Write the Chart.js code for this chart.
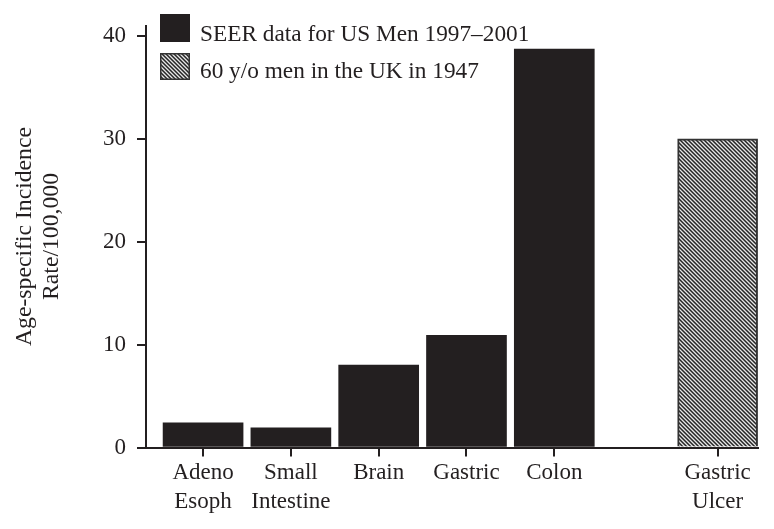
<!DOCTYPE html>
<html>
<head>
<meta charset="utf-8">
<script src="https://cdn.jsdelivr.net/npm/chart.js@4"></script>
<style>
  body { margin: 0; background: #fff; }
  #wrap { width: 774px; height: 529px; }
</style>
</head>
<body>
<div id="wrap"><canvas id="incidenceChart"></canvas></div>
<script>
// Data
const categories = [['Adeno', 'Esoph'], ['Small', 'Intestine'], 'Brain', 'Gastric', 'Colon', ['Gastric', 'Ulcer']];
const slots = [0, 1, 2, 3, 4, 5.86]; // Ulcer sits apart from the SEER group
const seerValues = [2.4, 1.9, 8.0, 10.9, 38.7];
const ukValues = [30.0];
const yTicks = [0, 10, 20, 30, 40];
const legendLabels = ['SEER data for US Men 1997\u20132001', '60 y/o men in the UK in 1947'];

const ink = '#231f20';
const serif = '"Liberation Serif", "Times New Roman", serif';

// diagonal hatch for the UK bar
function makeHatch() {
  const tile = document.createElement('canvas');
  tile.width = 4;
  tile.height = 4;
  const tctx = tile.getContext('2d');
  const shades = ['#262626', '#6e6e6e', '#e6e6e6', '#8c8c8c'];
  for (let x = 0; x < 4; x++) {
    for (let y = 0; y < 4; y++) {
      tctx.fillStyle = shades[(x - y + 8) % 4];
      tctx.fillRect(x, y, 1, 1);
    }
  }
  return tctx.createPattern(tile, 'repeat');
}
const hatch = makeHatch();

// Legend drawn inside the plot, top-left
const boxLegend = {
  id: 'boxLegend',
  afterDraw(chart) {
    const ctx = chart.ctx;
    const x0 = chart.chartArea.left + 14;
    ctx.save();
    ctx.fillStyle = ink;
    ctx.fillRect(x0, 14, 30, 28);
    ctx.fillStyle = hatch;
    ctx.fillRect(x0, 53, 30, 27);
    ctx.strokeStyle = '#333';
    ctx.lineWidth = 1.5;
    ctx.strokeRect(x0 + 0.75, 53.75, 28.5, 25.5);
    ctx.fillStyle = ink;
    ctx.font = '23.3px ' + serif;
    ctx.textBaseline = 'alphabetic';
    ctx.fillText(legendLabels[0], x0 + 40, 41);
    ctx.fillText(legendLabels[1], x0 + 40, 78);
    ctx.restore();
  }
};

const ctx = document.getElementById('incidenceChart').getContext('2d');

const incidenceChart = new Chart(ctx, {
  type: 'bar',
  data: {
    datasets: [{
      label: legendLabels[0],
      data: seerValues.map((v, i) => ({ x: slots[i], y: v })),
      backgroundColor: ink,
      borderWidth: 0
    }, {
      label: legendLabels[1],
      data: ukValues.map((v, i) => ({ x: slots[seerValues.length + i], y: v })),
      backgroundColor: hatch,
      borderColor: '#333',
      borderWidth: 2,
      borderSkipped: 'bottom'
    }]
  },
  options: {
    responsive: true,
    maintainAspectRatio: false,
    animation: false,
    grouped: false,
    barThickness: 80,
    layout: { padding: { top: 25.5, right: 16, left: 0, bottom: 0 } },
    plugins: {
      legend: { display: false },
      tooltip: { enabled: false }
    },
    scales: {
      x: {
        type: 'linear',
        min: -0.65,
        max: 6.32,
        offset: false,
        afterBuildTicks: scale => { scale.ticks = slots.map(v => ({ value: v })); },
        afterFit: scale => { scale.height = 81.5; },
        grid: { offset: false, drawOnChartArea: false, drawTicks: true, tickLength: 9, color: ink, lineWidth: 2 },
        border: { display: true, color: ink, width: 2 },
        ticks: {
          autoSkip: false,
          maxRotation: 0,
          padding: 2,
          color: ink,
          font: { family: serif, size: 23, lineHeight: 1.26 },
          callback: (value, index) => categories[index]
        }
      },
      y: {
        min: 0,
        max: 41,
        afterBuildTicks: scale => { scale.ticks = yTicks.map(v => ({ value: v })); },
        afterFit: scale => { scale.width = 146; },
        grid: { drawOnChartArea: false, drawTicks: true, tickLength: 9, color: ink, lineWidth: 2 },
        border: { display: true, color: ink, width: 2 },
        ticks: {
          padding: 11,
          color: ink,
          font: { family: serif, size: 23 }
        },
        title: {
          display: true,
          text: ['Age-specific Incidence', 'Rate/100,000'],
          color: ink,
          font: { family: serif, size: 23.7, lineHeight: 1.14 },
          padding: { top: 11, bottom: 0 }
        }
      }
    }
  },
  plugins: [boxLegend]
});
</script>
</body>
</html>
